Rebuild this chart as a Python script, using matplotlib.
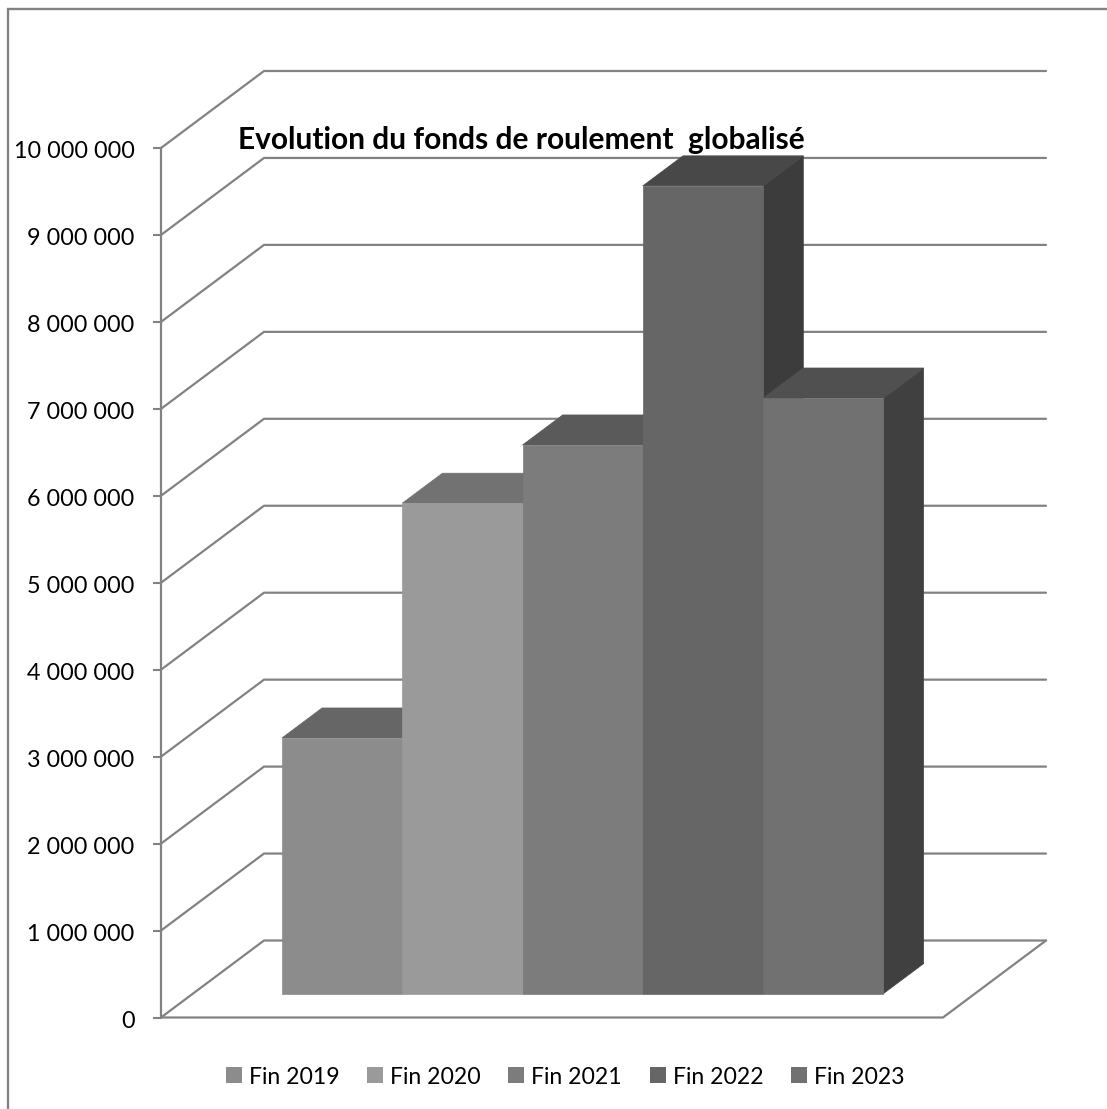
import matplotlib
matplotlib.use("Agg")
import matplotlib.pyplot as plt
from matplotlib.lines import Line2D
from matplotlib.patches import Patch, Polygon
from matplotlib.ticker import FuncFormatter
from matplotlib.transforms import ScaledTranslation

# Chart data
categories = ["Fin 2019", "Fin 2020", "Fin 2021", "Fin 2022", "Fin 2023"]
values = [2940000, 5640000, 6310000, 9290000, 6850000]
front_colors = ["#8c8c8c", "#9a9a9a", "#7c7c7c", "#666666", "#717171"]
top_colors = ["#666666", "#727272", "#5a5a5a", "#484848", "#505050"]
side_colors = ["#444444", "#4a4a4a", "#404040", "#3c3c3c", "#404040"]
y_ticks = list(range(0, 10000001, 1000000))
title = "Evolution du fonds de roulement  globalisé"

W, H = 1107, 1109
GRAY = "#828282"
FONT = ["Lato", "DejaVu Sans"]
plt.rcParams["font.family"] = FONT

fig = plt.figure(figsize=(W / 100, H / 100), dpi=100, facecolor="white")

# Chart border: only the top and left edges fall inside the canvas
fig.add_artist(Line2D([7.5 / W, 7.5 / W, 1], [0, 1 - 9 / H, 1 - 9 / H],
                      transform=fig.transFigure, color=GRAY, linewidth=1.7,
                      solid_joinstyle="miter"))

# Front plane of the plot: the value axis runs along its left edge
left, right, top, bottom = 161, 943, 148, 1017.5
ax = fig.add_axes([left / W, 1 - bottom / H, (right - left) / W, (bottom - top) / H])
ax.set_xlim(0, (right - left) / 120.3)
ax.set_ylim(0, 10000000)
ax.patch.set_visible(False)
for name in ("top", "right", "left", "bottom"):
    ax.spines[name].set_visible(False)
ax.set_xticks([])
ax.set_yticks(y_ticks)
ax.yaxis.set_major_formatter(FuncFormatter(lambda v, _: f"{int(v):,}".replace(",", " ")))
ax.tick_params(axis="y", length=6, width=1.5, color=GRAY, pad=13, labelsize=16.8)
label_shift = ScaledTranslation(0, -2 / 100, fig.dpi_scale_trans)
for label in ax.get_yticklabels():
    label.set_transform(label.get_transform() + label_shift)

# One unit of depth shifts a point this far right and up
DEPTH_X = 103 / 120.3
DEPTH_Y = 77 / 86.95 * 1000000
DEPTH_FRONT, DEPTH_BACK = 0.31, 0.70
X_MAX = (right - left) / 120.3
BAR_START = 89 / 120.3


def project(x, y, depth):
    return x + depth * DEPTH_X, y + depth * DEPTH_Y


line_style = dict(color=GRAY, linewidth=1.6, clip_on=False, solid_capstyle="round", zorder=1)

# Side wall gridlines and back wall gridlines
for v in y_ticks:
    bx, by = project(0, v, 1)
    ex, ey = project(X_MAX, v, 1)
    ax.plot([0, bx, ex], [v, by, ey], **line_style)

# Axis and floor outline
fx, fy = project(X_MAX, 0, 1)
ax.plot([0, 0], [0, 10000000], **line_style)
ax.plot([0, X_MAX, fx], [0, 0, fy], **line_style)

# Bars run left to right so each one covers the side of the previous one
for i, (value, front, roof, side) in enumerate(zip(values, front_colors, top_colors, side_colors)):
    x0, x1 = BAR_START + i, BAR_START + i + 1
    faces = [
        ([project(x1, 0, DEPTH_FRONT), project(x1, 0, DEPTH_BACK),
          project(x1, value, DEPTH_BACK), project(x1, value, DEPTH_FRONT)], side),
        ([project(x0, value, DEPTH_FRONT), project(x1, value, DEPTH_FRONT),
          project(x1, value, DEPTH_BACK), project(x0, value, DEPTH_BACK)], roof),
        ([project(x0, 0, DEPTH_FRONT), project(x1, 0, DEPTH_FRONT),
          project(x1, value, DEPTH_FRONT), project(x0, value, DEPTH_FRONT)], front),
    ]
    for points, color in faces:
        ax.add_patch(Polygon(points, closed=True, facecolor=color, edgecolor=color,
                             linewidth=0.5, clip_on=False, zorder=2 + i))

fig.text(238 / W, 1 - 140 / H, title, fontsize=21.5, fontweight="bold",
         color="black", ha="left", va="center", zorder=20)

handles = [Patch(facecolor=c, edgecolor="none") for c in front_colors]
fig.legend(handles, categories, ncol=5, loc="center",
           bbox_to_anchor=(565 / W, 1 - 1077 / H), frameon=False,
           fontsize=16.6, handlelength=0.695, handleheight=0.695,
           handletextpad=0.3, columnspacing=1.2, borderpad=0, borderaxespad=0)

fig.savefig("out.png", dpi=100, facecolor="white")
